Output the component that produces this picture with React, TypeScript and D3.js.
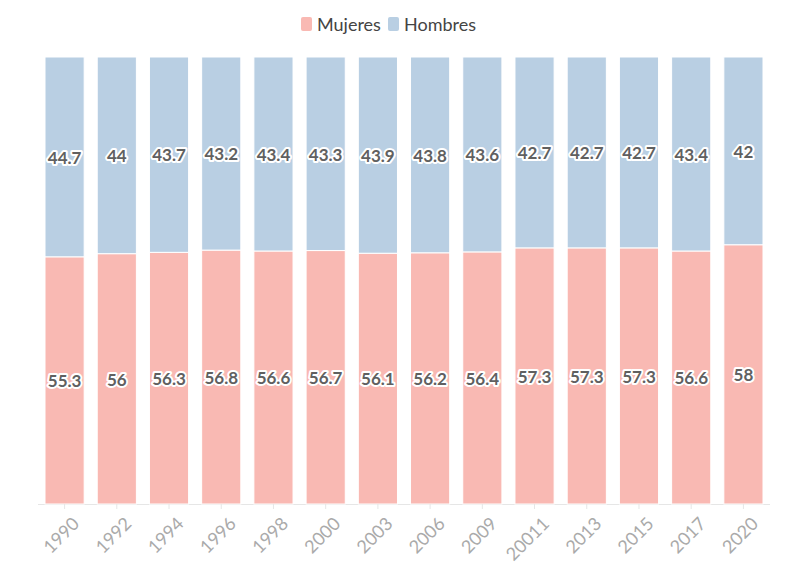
import React, { useEffect, useRef } from 'react';
import * as d3 from 'd3';

const years = ['1990', '1992', '1994', '1996', '1998', '2000', '2003', '2006', '2009', '20011', '2013', '2015', '2017', '2020'];
const mujeres = [55.3, 56, 56.3, 56.8, 56.6, 56.7, 56.1, 56.2, 56.4, 57.3, 57.3, 57.3, 56.6, 58];
const hombres = [44.7, 44, 43.7, 43.2, 43.4, 43.3, 43.9, 43.8, 43.6, 42.7, 42.7, 42.7, 43.4, 42];
const seriesNames = ['Mujeres', 'Hombres'];
const colors = ['#f9b9b3', '#b9cfe3'];

const W = 796;
const H = 575;

const App: React.FC = () => {
  const svgRef = useRef<SVGSVGElement>(null);

  useEffect(() => {
    const svg = d3.select(svgRef.current);
    svg.selectAll('*').remove();

    const font = "'Source Sans Pro', Lato, 'Open Sans', sans-serif";
    const top = 57;
    const bottom = 504;

    const x = d3.scaleBand<string>().domain(years).range([45, 763]).paddingInner(0.25).paddingOuter(0);
    const y = d3.scaleLinear().domain([0, 100]).range([bottom, top]);

    const rows = years.map((yr, i) => ({ year: yr, Mujeres: mujeres[i], Hombres: hombres[i] }));
    const stacked = d3.stack<any>().keys(seriesNames)(rows);

    // axis line
    svg.append('line')
      .attr('x1', 38).attr('x2', 770)
      .attr('y1', bottom + 0.5).attr('y2', bottom + 0.5)
      .attr('stroke', '#e6e6e6');

    const g = svg.append('g');
    stacked.forEach((layer, si) => {
      g.selectAll(null)
        .data(layer)
        .enter()
        .append('rect')
        .attr('x', d => x(d.data.year)!)
        .attr('width', x.bandwidth())
        .attr('y', d => y(d[1]))
        .attr('height', d => y(d[0]) - y(d[1]))
        .attr('fill', colors[si])
        .attr('stroke', '#fff')
        .attr('stroke-width', 1);
    });

    // value labels
    const vals = [mujeres, hombres];
    stacked.forEach((layer, si) => {
      svg.append('g').selectAll('text')
        .data(layer)
        .enter()
        .append('text')
        .attr('x', d => x(d.data.year)! + x.bandwidth() / 2)
        .attr('y', d => (y(d[0]) + y(d[1])) / 2)
        .attr('dy', '0.4em')
        .attr('text-anchor', 'middle')
        .style('font-family', font)
        .style('font-size', '17px')
        .style('font-weight', 'bold')
        .style('fill', '#606060')
        .style('stroke', '#fff')
        .style('stroke-width', 4)
        .style('stroke-linejoin', 'round')
        .style('paint-order', 'stroke')
        .text((_, i) => String(vals[si][i]));
    });

    // x ticks
    const ticks = svg.append('g');
    years.forEach(yr => {
      const cx = x(yr)! + x.bandwidth() / 2;
      ticks.append('line')
        .attr('x1', cx).attr('x2', cx)
        .attr('y1', bottom).attr('y2', bottom + 5)
        .attr('stroke', '#e6e6e6');
      ticks.append('text')
        .attr('transform', `translate(${cx + 7},${bottom + 12}) rotate(-45)`)
        .attr('text-anchor', 'end')
        .attr('dy', '0.7em')
        .style('font-family', font)
        .style('font-size', '18px')
        .style('fill', '#aaa')
        .text(yr);
    });

    // legend
    const legend = svg.append('g');
    const items = [{ name: 'Mujeres', x: 301 }, { name: 'Hombres', x: 388 }];
    items.forEach((it, i) => {
      legend.append('rect')
        .attr('x', it.x).attr('y', 17)
        .attr('width', 11).attr('height', 14)
        .attr('rx', 2)
        .attr('fill', colors[i]);
      legend.append('text')
        .attr('x', it.x + 16).attr('y', 25)
        .attr('dy', '0.35em')
        .style('font-family', font)
        .style('font-size', '18px')
        .style('fill', '#444')
        .text(it.name);
    });
  }, []);

  return (
    <svg ref={svgRef} width={W} height={H} style={{ position: 'absolute', left: 0, top: 0, background: '#fff' }} />
  );
};

export default App;
